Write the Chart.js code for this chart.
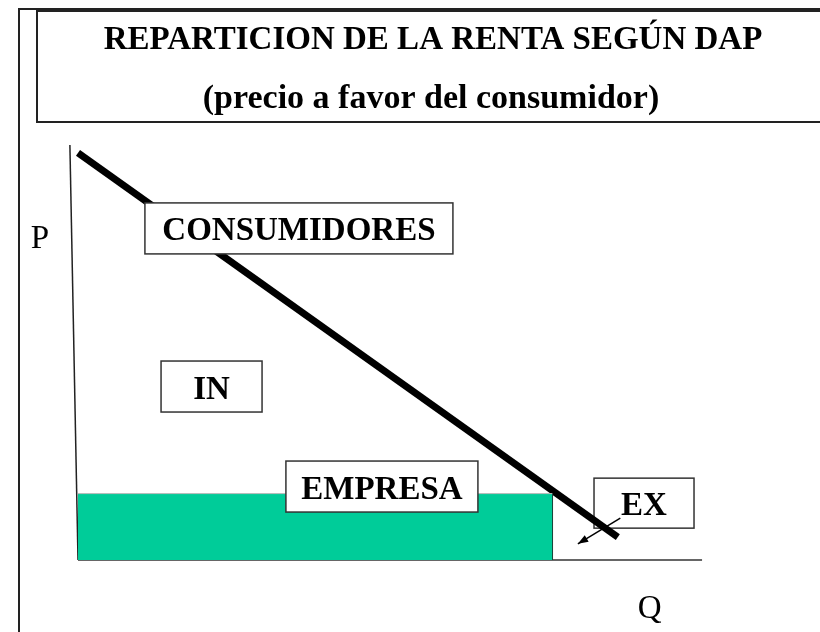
<!DOCTYPE html>
<html>
<head>
<meta charset="utf-8">
<script src="https://cdn.jsdelivr.net/npm/chart.js@4.4.1/dist/chart.umd.min.js"></script>
<style>
  html, body { margin: 0; padding: 0; background: #fff; overflow: hidden; }
  #wrap { width: 820px; height: 632px; position: relative; }
</style>
</head>
<body>
<div id="wrap"><canvas id="rentaChart" width="820" height="632"></canvas></div>
<script>
// renta DAP - reparto del excedente entre consumidores y empresa
const titleLines = ['REPARTICION DE LA RENTA SEGÚN DAP', '(precio a favor del consumidor)'];

// curva de demanda (Q, P)
const demandQ = [0, 86.5];
const demandP = [98.1, 5.5];

// precio y cantidad vendida
const priceP = 16;
const soldQ = 76;

// ejes
const pAxisQ = [-1.3, 0];
const pAxisP = [100, 0];
const qAxisQ = [0, 100];
const qAxisP = [0, 0];

// etiquetas de las zonas
const areaNames = ['CONSUMIDORES', 'IN', 'EMPRESA', 'EX'];
const areaQ = [35.4, 21.4, 48.7, 90.7];
const areaP = [79.9, 41.8, 17.7, 13.7];

// flecha de EX
const arrowQ = [86.9, 80.1];
const arrowP = [10.1, 3.9];

// nombres de ejes
const axisNames = ['P', 'Q'];
const axisNameQ = [-6.1, 91.6];
const axisNameP = [75.2, -14.0];

const pts = (xs, ys) => xs.map((x, i) => ({ x, y: ys[i] }));

// box styles (not data)
const boxStyle = [
  { w: 308, h: 51, under: false },
  { w: 101, h: 51, under: false },
  { w: 192, h: 51, under: false },
  { w: 100, h: 50, under: true }
];
const serif = '"Liberation Serif", "Times New Roman", serif';

function drawBoxes(chart, under) {
  const { ctx, scales: { x, y } } = chart;
  ctx.save();
  areaNames.forEach((name, i) => {
    if (boxStyle[i].under !== under) return;
    const cx = x.getPixelForValue(areaQ[i]);
    const cy = y.getPixelForValue(areaP[i]);
    const w = boxStyle[i].w, h = boxStyle[i].h;
    ctx.fillStyle = '#fff';
    ctx.fillRect(cx - w / 2, cy - h / 2, w, h);
    ctx.strokeStyle = '#333';
    ctx.lineWidth = 1.5;
    ctx.strokeRect(cx - w / 2, cy - h / 2, w, h);
    ctx.fillStyle = '#000';
    ctx.font = 'bold 33px ' + serif;
    ctx.textAlign = 'center';
    ctx.textBaseline = 'alphabetic';
    ctx.fillText(name, cx, cy + 12);
  });
  ctx.restore();
}

const framePlugin = {
  id: 'frame',
  beforeDatasetsDraw(chart) {
    const { ctx, scales: { x, y } } = chart;
    ctx.save();
    // outer frame + title box
    ctx.strokeStyle = '#222';
    ctx.lineWidth = 2;
    ctx.beginPath();
    ctx.moveTo(19, 640); ctx.lineTo(19, 9); ctx.lineTo(830, 9);
    ctx.stroke();
    ctx.strokeRect(37, 11, 800, 111);
    ctx.fillStyle = '#000';
    ctx.textAlign = 'center';
    ctx.font = 'bold 33px ' + serif;
    ctx.fillText(titleLines[0], 433, 49);
    ctx.font = 'bold 34px ' + serif;
    ctx.fillText(titleLines[1], 431, 108);
    // axis names
    ctx.font = '33px ' + serif;
    axisNames.forEach((n, i) => {
      ctx.fillText(n, x.getPixelForValue(axisNameQ[i]), y.getPixelForValue(axisNameP[i]));
    });
    ctx.restore();
    drawBoxes(chart, true);
  },
  afterDatasetsDraw(chart) {
    const { ctx, scales: { x, y } } = chart;
    // arrow head for EX
    const x0 = x.getPixelForValue(arrowQ[0]), y0 = y.getPixelForValue(arrowP[0]);
    const x1 = x.getPixelForValue(arrowQ[1]), y1 = y.getPixelForValue(arrowP[1]);
    const a = Math.atan2(y1 - y0, x1 - x0);
    ctx.save();
    ctx.fillStyle = '#000';
    ctx.beginPath();
    ctx.moveTo(x1, y1);
    ctx.lineTo(x1 - 11 * Math.cos(a - 0.35), y1 - 11 * Math.sin(a - 0.35));
    ctx.lineTo(x1 - 11 * Math.cos(a + 0.35), y1 - 11 * Math.sin(a + 0.35));
    ctx.closePath();
    ctx.fill();
    ctx.restore();
    drawBoxes(chart, false);
  }
};

const line = (data, color, width, extra) => Object.assign({
  data, showLine: true, borderColor: color, borderWidth: width,
  pointRadius: 0, fill: false, tension: 0
}, extra || {});

new Chart(document.getElementById('rentaChart').getContext('2d'), {
  type: 'scatter',
  data: {
    datasets: [
      line(pts([0, soldQ], [priceP, priceP]), '#bbb', 1, { fill: 'origin', backgroundColor: '#00CC99' }),
      line(pts([soldQ, soldQ], [priceP, 0]), '#1d3a33', 1.5),
      line(pts(pAxisQ, pAxisP), '#222', 1.5),
      line(pts(qAxisQ, qAxisP), '#333', 1.5),
      line(pts(demandQ, demandP), '#000', 7, { borderCapStyle: 'butt' }),
      line(pts(arrowQ, arrowP), '#000', 1.5)
    ]
  },
  options: {
    responsive: false,
    animation: false,
    layout: { padding: 0 },
    plugins: { legend: { display: false }, title: { display: false }, tooltip: { enabled: false } },
    scales: {
      x: { type: 'linear', min: -12.5, max: 118.9, display: false },
      y: { type: 'linear', min: -17.35, max: 134.94, display: false }
    }
  },
  plugins: [framePlugin]
});
</script>
</body>
</html>
